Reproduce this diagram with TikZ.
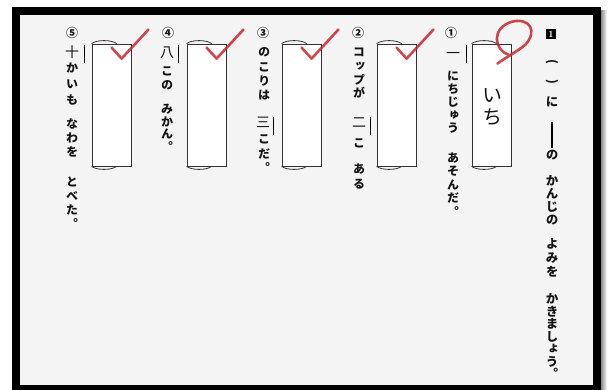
\documentclass[tikz,border=0pt]{standalone}
\usepackage{fontspec}
\newfontfamily\jp[RawFeature=+vert]{Noto Sans CJK JP}
\newfontfamily\jph{Noto Sans CJK JP}
\usetikzlibrary{calc}
\definecolor{bgpage}{HTML}{F4F4F4}
\definecolor{penred}{HTML}{C8262E}
\newcommand\vstack[2]{\vbox{\offinterlineskip\def\vpitch{#1}\vsloop#2\relax}}
\def\vsloop#1{\ifx#1\relax\else\hbox to 18pt{\hss\vbox to \vpitch pt{\vss\hbox{\vrule height .88em depth .12em width 0pt #1}\vss}\hss}\expandafter\vsloop\fi}
\begin{document}
\begin{tikzpicture}[x=1pt,y=-1pt,
  ansbox/.style={draw=black!80, line width=0.8pt, fill=white, minimum width=39pt, minimum height=122pt, inner sep=0pt},
  capline/.style={draw=black!80, line width=0.8pt},
  redpen/.style={draw=penred, line width=2.6pt, line cap=round, line join=round, opacity=0.85},
  jt/.style={inner sep=0pt, anchor=north, text=black!92, font=\jp\bfseries\fontsize{12}{12}\selectfont},
  tt/.style={jt, font=\jp\bfseries\fontsize{12.5}{12.5}\selectfont},
  paren/.style={inner sep=0pt, text=black!92, font=\jph\bfseries\fontsize{12}{12}\selectfont},
  kj/.style={jt, font=\jp\fontsize{14}{14}\selectfont},
  big/.style={jt, font=\jp\fontsize{20}{20}\selectfont},
  sideline/.style={draw=black, line width=0.9pt}]
\useasboundingbox (0,0) rectangle (610,389);
% frame
\fill[white] (0,0) rectangle (610,389);
\shade[left color=black!45, right color=white] (601,10) rectangle (607,389);
\fill[black] (12,7) rectangle (601,392);
\fill[bgpage] (20,15) rectangle (593,385);
% title
\node[fill=black, text=white, minimum width=10pt, minimum height=10pt, inner sep=0pt, font=\bfseries\sffamily\fontsize{8.5}{8.5}\selectfont] (num) at (551,34) {1};
\node[paren, rotate=-90] (ta) at (552,62) {(};
\node[paren, rotate=-90] (tb) at (552,82) {)};
\node[tt] (tc) at (552,95.5) {\vstack{13}{に}};
\coordinate (d1) at (552,122);
\coordinate (d2) at (552,148);
\draw[line width=1.3pt] (d1) -- (d2);
\node[tt] (td) at (552,148.5) {\vstack{13}{の}};
\node[tt] (te) at (552,174.5) {\vstack{13}{かんじの}};
\node[tt] (tf) at (552,237) {\vstack{14}{よみを}};
\node[tt] (tg) at (552,292.75) {\vstack{12.5}{かきましょう。}};
% boxes
\node[ansbox] (b1) at (491.5,105) {};
\node[ansbox] (b2) at (396.5,105) {};
\node[ansbox] (b3) at (301.5,105) {};
\node[ansbox] (b4) at (206.5,105) {};
\node[ansbox] (b5) at (111.5,105) {};
\foreach \b in {b1,b2,b3,b4,b5}{
  \draw[capline] (\b.north west) .. controls ($(\b.north west)+(5,-4)$) and ($(\b.north west)+(20,-4)$) .. ($(\b.north west)+(25,0)$);
  \draw[capline] (\b.south west) .. controls ($(\b.south west)+(5,4)$) and ($(\b.south west)+(20,4)$) .. ($(\b.south west)+(25,0)$);
}
% item 1
\node[jt] (l1) at (451,26.5) {\vstack{13}{①}};
\node[kj] (k1) at (453,45.5) {\vstack{14}{一}};
\coordinate (s1a) at (466,45); \coordinate (s1b) at (466,63);
\draw[sideline] (s1a) -- (s1b);
\node[jt] (a1) at (453,69.5) {\vstack{13}{にちじゅう}};
\node[jt] (a2) at (453,150.75) {\vstack{13.5}{あそんだ。}};
\node[big] (i1) at (492,84) {\vstack{22}{いち}};
% item 2
\node[jt] (l2) at (358,26.5) {\vstack{13}{②}};
\node[jt] (a3) at (359,45.15) {\vstack{13.7}{コップが}};
\node[kj] (k2) at (359,115) {\vstack{14}{二}};
\coordinate (s2a) at (370,117); \coordinate (s2b) at (370,135);
\draw[sideline] (s2a) -- (s2b);
\node[jt] (a4) at (359,136.5) {\vstack{13}{こ}};
\node[jt] (a5) at (359,161.5) {\vstack{15}{ある}};
% item 3
\node[jt] (l3) at (263,26.5) {\vstack{13}{③}};
\node[jt] (a6) at (264,44.85) {\vstack{14.3}{のこりは}};
\node[kj] (k3) at (263,115) {\vstack{14}{三}};
\coordinate (s3a) at (273,117); \coordinate (s3b) at (273,135);
\draw[sideline] (s3a) -- (s3b);
\node[jt] (a7) at (264,131.75) {\vstack{14.5}{こだ。}};
% item 4
\node[jt] (l4) at (168,26.5) {\vstack{13}{④}};
\node[kj] (k4) at (167,45) {\vstack{14}{八}};
\coordinate (s4a) at (178,45); \coordinate (s4b) at (178,63);
\draw[sideline] (s4a) -- (s4b);
\node[jt] (a8) at (167,64) {\vstack{14}{この}};
\node[jt] (a9) at (167,102.75) {\vstack{12.5}{みかん。}};
% item 5
\node[jt] (l5) at (72,26.5) {\vstack{13}{⑤}};
\node[kj] (k5) at (72,45) {\vstack{14}{十}};
\coordinate (s5a) at (84,45); \coordinate (s5b) at (84,63);
\draw[sideline] (s5a) -- (s5b);
\node[jt] (a10) at (72,60.1) {\vstack{15.8}{かいも}};
\node[jt] (a11) at (72,117) {\vstack{14}{なわを}};
\node[jt] (a12) at (72,175) {\vstack{14}{とべた。}};
% red marks
\draw[redpen] ($(b1.north east)+(-3,11)$) .. controls ($(b1.north east)+(-17,7)$) and ($(b1.north east)+(-21,-16)$) .. ($(b1.north east)+(1,-22)$)
  .. controls ($(b1.north east)+(19,-26)$) and ($(b1.north east)+(26,-12)$) .. ($(b1.north east)+(14,1)$)
  .. controls ($(b1.north east)+(6,8)$) and ($(b1.north east)+(-6,14)$) .. ($(b1.north east)+(-14,20)$);
\foreach \b in {b2,b3,b4,b5}{
  \draw[redpen] ($(\b.north west)+(20,4)$) -- ($(\b.north west)+(30,15)$) -- ($(\b.north east)+(17,-14)$);
}
\end{tikzpicture}
\end{document}
